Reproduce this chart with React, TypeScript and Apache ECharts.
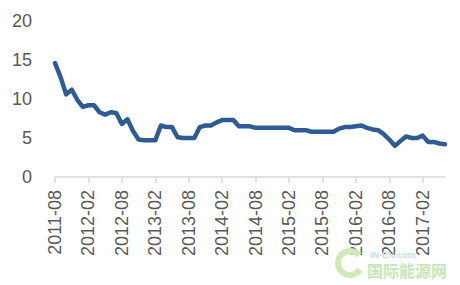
import React, { useEffect, useRef } from "react";
import * as echarts from "echarts";

const startYear = 2011;
const startMonth = 8;
const values: number[] = [
  14.6, 12.8, 10.6, 11.2, 9.9, 9.0, 9.2, 9.2, 8.3, 8.0, 8.3, 8.2,
  6.8, 7.4, 5.9, 4.8, 4.7, 4.7, 4.7, 6.6, 6.4, 6.4, 5.1, 5.0,
  5.0, 5.0, 6.4, 6.6, 6.6, 7.0, 7.3, 7.3, 7.3, 6.5, 6.5, 6.5,
  6.3, 6.3, 6.3, 6.3, 6.3, 6.3, 6.3, 6.0, 6.0, 6.0, 5.8, 5.8,
  5.8, 5.8, 5.8, 6.2, 6.4, 6.4, 6.5, 6.6, 6.3, 6.1, 6.0, 5.5,
  4.8, 4.0, 4.6, 5.2, 5.0, 5.0, 5.3, 4.5, 4.5, 4.3, 4.2,
];
const categories: string[] = values.map((_, i) => {
  const m = startMonth - 1 + i;
  const y = startYear + Math.floor(m / 12);
  const mm = (m % 12) + 1;
  return `${y}-${mm < 10 ? "0" + mm : mm}`;
});
const yTicks = [0, 5, 10, 15, 20];

export default function App() {
  const ref = useRef<HTMLDivElement>(null);
  useEffect(() => {
    if (!ref.current) return;
    const chart = echarts.init(ref.current, undefined, { renderer: "svg" });
    chart.setOption({
      animation: false,
      backgroundColor: "#ffffff",
      grid: { left: 55, right: 15, top: 21, bottom: 108 },
      xAxis: {
        type: "category",
        data: categories,
        boundaryGap: false,
        axisLine: { lineStyle: { color: "#d9d9d9", width: 1.5 } },
        axisTick: { interval: 5, length: 6, lineStyle: { color: "#d9d9d9", width: 1.5 } },
        axisLabel: {
          interval: 5,
          rotate: 90,
          margin: 13,
          color: "#595959",
          fontSize: 18,
          fontFamily: "Liberation Sans",
        },
      },
      yAxis: {
        type: "value",
        min: yTicks[0],
        max: yTicks[yTicks.length - 1],
        interval: 5,
        axisLine: { show: false },
        axisTick: { show: false },
        splitLine: { show: false },
        axisLabel: {
          margin: 23,
          color: "#595959",
          fontSize: 18,
          fontFamily: "Liberation Sans",
        },
      },
      series: [
        {
          type: "line",
          data: values,
          symbol: "none",
          lineStyle: { color: "#2E5B94", width: 4.5, join: "round", cap: "round" },
        },
      ],
      graphic: [
        {
          type: "arc",
          shape: { cx: 350, cy: 263, r: 12, startAngle: 0.6, endAngle: 5.6 },
          style: { stroke: "#cfe9b8", lineWidth: 6, fill: "none" },
          z: 10,
        },
        {
          type: "text",
          x: 370,
          y: 250,
          style: { text: "IN-EN.com", fill: "#bfe3e0", font: "bold 9px Liberation Sans" },
          z: 10,
        },
        {
          type: "text",
          x: 367,
          y: 262,
          style: { text: "国际能源网", fill: "#c5e8b5", font: "bold 16px 'Noto Sans CJK SC'" },
          z: 10,
        },
      ],
    });
    return () => chart.dispose();
  }, []);
  return (
    <div
      ref={ref}
      style={{ position: "absolute", left: 0, top: 0, width: 460, height: 285 }}
    />
  );
}
